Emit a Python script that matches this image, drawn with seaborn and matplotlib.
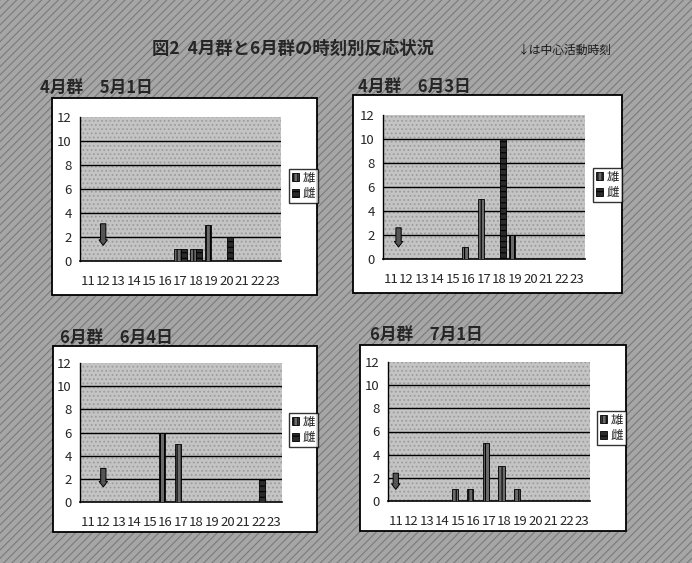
import matplotlib
matplotlib.use("Agg")
import matplotlib.pyplot as plt
from matplotlib.patches import Rectangle
import seaborn as sns
import pandas as pd

sns.set_style("white")
plt.rcParams['font.family'] = ['Noto Sans CJK JP', 'DejaVu Sans']
plt.rcParams['hatch.linewidth'] = 0.8

# data
hours = [str(h) for h in range(11, 24)]
sexes = ["雄", "雌"]
panel_titles = ["4月群　5月1日", "4月群　6月3日", "6月群　6月4日", "6月群　7月1日"]
male_counts = [
    [0, 0, 0, 0, 0, 0, 1, 1, 3, 0, 0, 0, 0],
    [0, 0, 0, 0, 0, 1, 5, 0, 2, 0, 0, 0, 0],
    [0, 0, 0, 0, 0, 6, 5, 0, 0, 0, 0, 0, 0],
    [0, 0, 0, 0, 1, 1, 5, 3, 1, 0, 0, 0, 0],
]
female_counts = [
    [0, 0, 0, 0, 0, 0, 1, 1, 0, 2, 0, 0, 0],
    [0, 0, 0, 0, 0, 0, 0, 10, 0, 0, 0, 0, 0],
    [0, 0, 0, 0, 0, 0, 0, 0, 0, 0, 0, 2, 0],
    [0, 0, 0, 0, 0, 0, 0, 0, 0, 0, 0, 0, 0],
]
arrow_hours = [12, 11.5, 12, 11]
arrow_tops = [3.1, 2.6, 2.9, 2.4]
arrow_bottoms = [1.3, 1.0, 1.3, 1.0]
yticks = [0, 2, 4, 6, 8, 10, 12]

main_title = "図2  4月群と6月群の時刻別反応状況"
note_text = "↓は中心活動時刻"

W, H = 692, 563
# pixel layout: white box, plot area, title position, legend anchor
layout = [
    dict(box=(52, 98, 317, 295), plot=(80, 117, 281, 261), title=(40, 88), legend=(289, 186)),
    dict(box=(353, 95, 622, 293), plot=(383, 115, 585, 259), title=(358, 87), legend=(593, 185)),
    dict(box=(53, 346, 317, 532), plot=(80, 363, 282, 502), title=(60, 338), legend=(289, 430)),
    dict(box=(360, 345, 626, 531), plot=(388, 362, 590, 501), title=(370, 335), legend=(597, 428)),
]


def fx(x):
    return x / W


def fy(y):
    return 1 - y / H


fig = plt.figure(figsize=(W / 100, H / 100), dpi=100)
fig.patch.set_facecolor("#a6a6a6")
fig.patches.append(Rectangle((0, 0), 1, 1, transform=fig.transFigure, facecolor="none",
                             edgecolor="#7a7a7a", hatch="////", lw=0, zorder=-3))

fig.text(fx(293), fy(49), main_title, fontsize=12.5, fontweight="bold", ha="center", va="center")
fig.text(fx(518), fy(50), note_text, fontsize=8.5, ha="left", va="center", color="#1a1a1a")

for i, spec in enumerate(layout):
    bx0, by0, bx1, by1 = spec["box"]
    fig.patches.append(Rectangle((fx(bx0), fy(by1)), fx(bx1 - bx0), (by1 - by0) / H,
                                 transform=fig.transFigure, facecolor="white",
                                 edgecolor="black", lw=1.3, zorder=-2))
    fig.text(fx(spec["title"][0]), fy(spec["title"][1]), panel_titles[i],
             fontsize=12, fontweight="bold", ha="left", va="center")

    px0, py0, px1, py1 = spec["plot"]
    ax = fig.add_axes([fx(px0), fy(py1), fx(px1 - px0), (py1 - py0) / H])
    ax.set_facecolor("#c4c4c4")
    ax.add_patch(Rectangle((0, 0), 1, 1, transform=ax.transAxes, facecolor="none",
                           edgecolor="#9c9c9c", hatch="....", lw=0, zorder=0))

    df = pd.DataFrame({
        "hour": hours * 2,
        "sex": [sexes[0]] * len(hours) + [sexes[1]] * len(hours),
        "count": male_counts[i] + female_counts[i],
    })
    sns.barplot(data=df, x="hour", y="count", hue="sex", order=hours, hue_order=sexes,
                palette=["#6a6a6a", "#2a2a2a"], edgecolor="black", linewidth=0.6,
                width=0.8, ax=ax, zorder=3)
    for cont, hatch in zip(ax.containers, ["||||", "---"]):
        for bar in cont:
            bar.set_hatch(hatch)

    for y in yticks[1:-1]:
        ax.axhline(y, color="black", lw=1.0, zorder=2)

    pos = arrow_hours[i] - 11
    ax.annotate("", xy=(pos, arrow_bottoms[i]), xytext=(pos, arrow_tops[i]),
                arrowprops=dict(arrowstyle="simple,head_width=0.6,head_length=0.4,tail_width=0.38",
                                fc="#555555", ec="black", lw=0.7, shrinkA=0, shrinkB=0), zorder=5)

    ax.set_ylim(0, 12)
    ax.set_yticks(yticks)
    ax.set_xlim(-0.5, len(hours) - 0.5)
    ax.set_xlabel("")
    ax.set_ylabel("")
    ax.tick_params(axis="y", length=0, pad=6, labelsize=9.5)
    ax.tick_params(axis="x", length=2, pad=10, labelsize=9.5, direction="in")
    for side in ["top", "right"]:
        ax.spines[side].set_visible(False)
    ax.spines["left"].set_color("black")
    ax.spines["bottom"].set_color("black")
    ax.spines["left"].set_linewidth(1.0)
    ax.spines["bottom"].set_linewidth(1.2)

    handles = list(ax.containers)
    if ax.get_legend() is not None:
        ax.get_legend().remove()
    lx, ly = spec["legend"]
    leg = fig.legend(handles, sexes, loc="center left", bbox_to_anchor=(fx(lx), fy(ly)),
                     fontsize=9, frameon=True, fancybox=False, edgecolor="black",
                     handlelength=0.6, handleheight=0.6, handletextpad=0.3,
                     borderpad=0.2, labelspacing=0.2, borderaxespad=0)
    leg.get_frame().set_linewidth(1.0)

fig.savefig("out.png", dpi=100)
